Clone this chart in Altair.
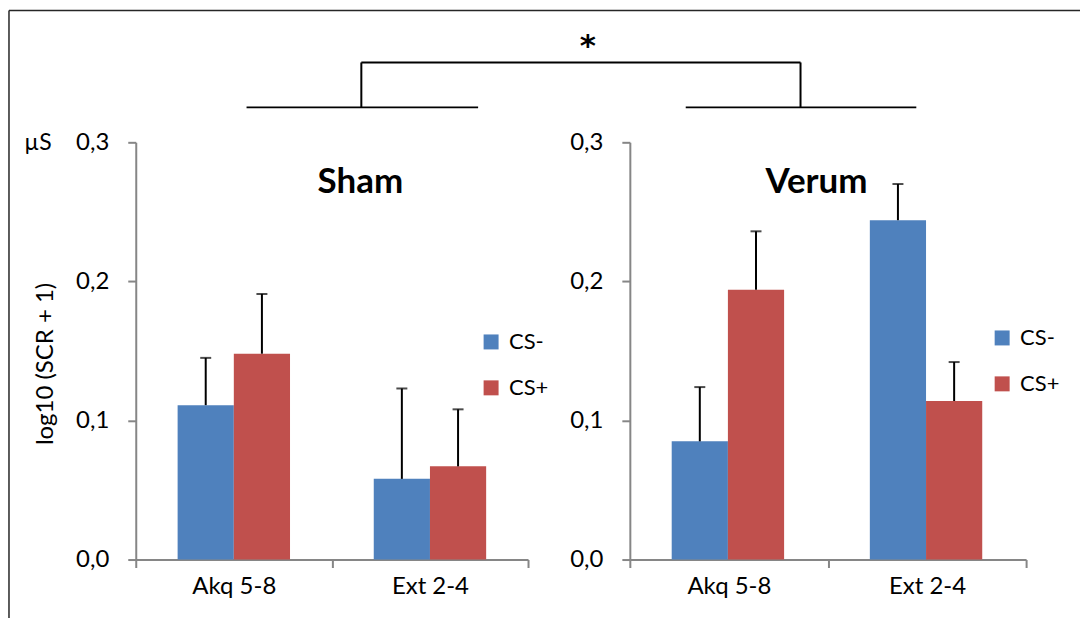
import altair as alt
import pandas as pd

# ---- data ----
phases = ["Akq 5-8", "Ext 2-4"]
conditions = ["CS-", "CS+"]
# order: Akq CS-, Akq CS+, Ext CS-, Ext CS+
sham_mean = [0.111, 0.148, 0.058, 0.067]
sham_err = [0.034, 0.043, 0.065, 0.041]
verum_mean = [0.085, 0.194, 0.244, 0.114]
verum_err = [0.039, 0.042, 0.026, 0.028]
y_ticks = [0.0, 0.1, 0.2, 0.3]
colors = ["#4F81BD", "#C0504D"]
panel_titles = ["Sham", "Verum"]
y_title = "log10 (SCR + 1)"
unit_label = "µS"
sig_label = "*"

FONT = "Lato"
GRAY = "#868686"
PLOT_H = 418


def frame(means, errs):
    rows = []
    i = 0
    for p in phases:
        for c in conditions:
            rows.append({"phase": p, "cond": c, "mean": means[i], "top": means[i] + errs[i]})
            i += 1
    return pd.DataFrame(rows)


one = pd.DataFrame({"k": [0]})


def txt(t, x, y, size, bold=False, angle=0, font=FONT):
    return alt.Chart(pd.DataFrame({"t": [t]})).mark_text(
        font=font, fontSize=size, fontWeight="bold" if bold else "normal",
        color="black", align="center", baseline="middle", angle=angle
    ).encode(x=alt.value(x), y=alt.value(y), text="t:N")


def line(x1, x2, y1, y2, color="black", w=2.0):
    return alt.Chart(one).mark_rule(color=color, strokeWidth=w).encode(
        x=alt.value(x1), x2=alt.value(x2), y=alt.value(y1), y2=alt.value(y2)
    )


def panel(df, title, title_x, leg_x, leg_y, width, extras=None):
    base = alt.Chart(df)
    x = alt.X(
        "phase:N", sort=phases,
        scale=alt.Scale(paddingInner=0, paddingOuter=0),
        axis=alt.Axis(
            title=None, labelAngle=0, tickBand="extent", tickSize=8,
            labelPadding=7, labelFontSize=24, labelFont=FONT, labelColor="black",
            domainColor=GRAY, tickColor=GRAY, domainWidth=2, tickWidth=2,
        ),
    )
    xo = alt.XOffset(
        "cond:N", sort=conditions,
        scale=alt.Scale(paddingInner=0, paddingOuter=0.745),
    )
    y = alt.Y(
        "mean:Q",
        scale=alt.Scale(domain=[0, 0.3], nice=False, zero=True),
        axis=alt.Axis(
            title=None, values=y_ticks, grid=False,
            labelExpr="replace(format(datum.value, '.1f'), '.', ',')",
            tickSize=8, labelPadding=19, labelFontSize=24, labelFont=FONT,
            labelColor="black", domainColor=GRAY, tickColor=GRAY,
            domainWidth=2, tickWidth=2,
        ),
    )
    color = alt.Color(
        "cond:N", sort=conditions,
        scale=alt.Scale(domain=conditions, range=colors),
        legend=alt.Legend(
            orient="none", legendX=leg_x, legendY=leg_y, title=None,
            symbolType="square", symbolSize=225, symbolStrokeWidth=0,
            labelFontSize=22, labelFont=FONT, labelColor="black",
            rowPadding=24, labelOffset=7, padding=0,
        ),
    )
    bars = base.mark_bar().encode(x=x, xOffset=xo, y=y, color=color)
    stems = base.mark_rule(color="black", strokeWidth=2).encode(
        x=alt.X("phase:N", sort=phases), xOffset=alt.XOffset("cond:N", sort=conditions),
        y="mean:Q", y2="top:Q",
    )
    caps = base.mark_tick(color="black", thickness=2, size=11).encode(
        x=alt.X("phase:N", sort=phases), xOffset=alt.XOffset("cond:N", sort=conditions),
        y="top:Q",
    )
    layers = [bars, stems, caps, txt(title, title_x, 40, 35, bold=True)]
    if extras:
        layers += extras
    return alt.layer(*layers).properties(width=width, height=PLOT_H)


# annotations, in pixels relative to the left plot's origin (135, 141)
extras = [
    # canvas extent helpers (white, invisible)
    line(-135, 946, -141, -141, color="white", w=0.01),
    line(-135, 946, 477, 477, color="white", w=0.01),
    # frame (top and left borders)
    line(-127, 946, -132, -132, color="#262626", w=1.5),
    line(-127, -127, -132, 477, color="#262626", w=1.5),
    # significance bracket
    line(111, 343, -35, -35),
    line(551, 782, -35, -35),
    line(226, 226, -35, -80),
    line(666, 666, -35, -80),
    line(226, 666, -80, -80),
    txt(sig_label, 453, -95, 31, bold=True, font="DejaVu Sans"),
    # unit and y title
    txt(unit_label, -98, 1, 23),
    txt(y_title, -90, 222, 24, angle=270),
]

left = panel(frame(sham_mean, sham_err), panel_titles[0], 225, 345, 189, 393, extras)
right = panel(frame(verum_mean, verum_err), panel_titles[1], 187, 362, 185, 397)

chart = (
    alt.hconcat(left, right, spacing=102, bounds="flush")
    .resolve_scale(color="independent")
    .resolve_legend(color="independent")
    .properties(padding=0, background="white")
    .configure_view(stroke=None)
)

chart.save("out.html", embed_options={"renderer": "svg", "actions": False})
